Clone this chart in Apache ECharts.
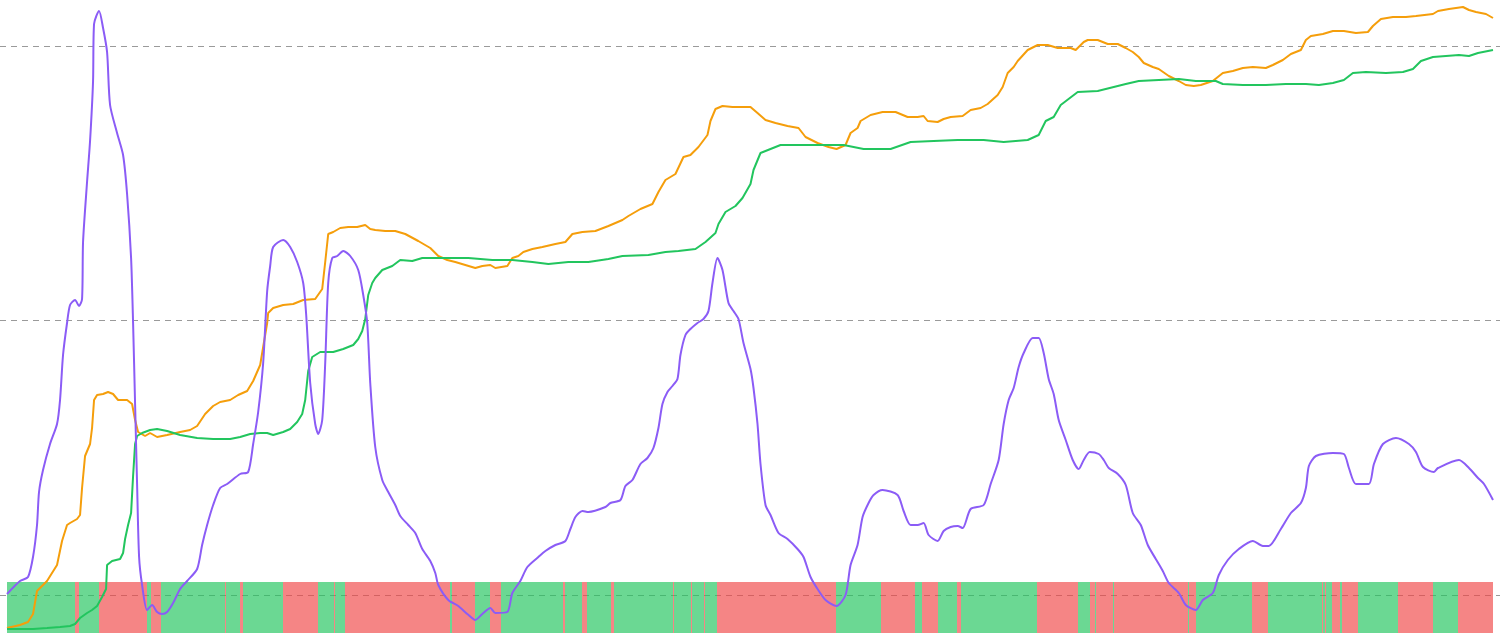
<!DOCTYPE html>
<html>
<head>
<meta charset="utf-8">
<script src="https://cdn.jsdelivr.net/npm/echarts@6/dist/echarts.min.js"></script>
<style>
  html, body { margin: 0; padding: 0; background: #ffffff; }
  #chart { width: 1500px; height: 633px; }
</style>
</head>
<body>
<div id="chart"></div>
<script>
// ---- data (day index, level) ----
const oscillator = [
[0,39],[13,52],[21,56],[26,76],[30,108],[32,141],[36,163],[43,189],[50,209],[53,233],[56,278],[60,310],[63,328],[68,333],[72,327],[75,334],[76,391],[80,451],[83,492],[86,552],[87,609],[92,622],[96,605],[100,581],[103,528],[110,500],[116,478],[120,439],[124,375],[126,310],[128,229],[130,149],[132,76],[135,48],[140,23],[145,28],[150,21],[155,19],[160,21],[166,30],[173,44],[180,52],[190,64],[195,88],[200,108],[206,128],[213,145],[220,149],[233,159],[241,161],[246,189],[251,221],[256,270],[260,342],[263,367],[266,386],[276,393],[283,386],[290,371],[296,350],[299,318],[303,250],[308,209],[311,199],[315,213],[318,270],[321,350],[325,375],[330,377],[336,382],[343,377],[351,363],[356,338],[360,310],[363,250],[368,186],[375,153],[381,141],[388,128],[393,117],[401,108],[408,100],[415,84],[423,72],[428,60],[431,48],[441,33],[451,27],[460,19],[468,13],[475,19],[483,25],[488,20],[500,21],[505,40],[513,52],[520,66],[531,76],[538,82],[548,88],[558,92],[563,104],[568,116],[575,122],[581,121],[598,126],[603,130],[613,133],[618,147],[625,153],[633,169],[640,175],[646,185],[651,205],[655,229],[660,241],[665,247],[670,254],[673,278],[678,298],[683,304],[690,310],[696,314],[701,322],[705,350],[710,375],[715,363],[721,330],[726,322],[731,314],[736,290],[743,264],[746,245],[750,209],[753,169],[758,128],[763,118],[771,100],[780,94],[790,84],[796,76],[803,56],[810,44],[818,33],[829,27],[838,38],[843,68],[850,88],[855,116],[861,130],[866,138],[875,143],[890,138],[896,122],[903,108],[910,108],[916,110],[921,98],[930,92],[936,102],[943,106],[950,107],[955,105],[963,124],[976,128],[983,149],[991,173],[996,209],[1001,233],[1006,245],[1011,266],[1016,280],[1025,295],[1031,295],[1036,280],[1041,254],[1046,239],[1051,213],[1058,193],[1065,173],[1071,164],[1076,173],[1082,181],[1091,179],[1096,173],[1101,165],[1110,159],[1118,148],[1125,120],[1133,108],[1140,88],[1148,74],[1155,62],[1161,50],[1171,40],[1178,28],[1188,23],[1195,33],[1205,40],[1211,58],[1220,73],[1231,84],[1245,92],[1255,87],[1261,87],[1273,104],[1283,120],[1293,130],[1298,145],[1301,167],[1308,177],[1325,180],[1336,179],[1341,165],[1348,149],[1361,149],[1366,169],[1375,189],[1388,195],[1401,189],[1408,181],[1415,166],[1426,161],[1430,165],[1451,173],[1461,165],[1470,155],[1476,149],[1485,133]
];
const fastTrend = [
[0,5],[13,8],[21,11],[26,19],[30,42],[40,52],[50,68],[55,92],[60,108],[63,110],[70,114],[73,118],[75,145],[78,177],[83,189],[85,205],[87,233],[90,238],[96,239],[101,241],[106,239],[111,233],[120,233],[125,229],[128,213],[131,201],[138,197],[143,200],[150,196],[160,198],[173,201],[183,203],[190,207],[198,219],[206,227],[213,231],[223,233],[231,238],[240,242],[246,252],[253,268],[256,286],[260,310],[261,320],[266,325],[276,328],[286,329],[296,333],[308,334],[315,344],[318,371],[321,399],[326,401],[333,405],[341,406],[350,406],[358,408],[363,404],[368,403],[378,402],[388,402],[398,399],[411,392],[423,385],[431,377],[440,373],[448,371],[458,368],[468,365],[475,367],[483,368],[488,365],[500,367],[505,375],[511,377],[516,381],[525,384],[535,386],[548,389],[558,391],[565,399],[575,401],[588,402],[601,407],[615,413],[621,417],[633,424],[645,429],[651,441],[658,453],[668,459],[676,476],[683,478],[691,486],[700,498],[703,512],[708,524],[715,527],[725,526],[735,526],[743,526],[750,520],[758,513],[768,510],[780,507],[791,505],[798,496],[810,490],[821,486],[829,484],[838,488],[843,500],[850,505],[853,512],[863,518],[875,521],[888,521],[900,516],[910,516],[916,517],[920,512],[930,511],[936,514],[943,516],[955,517],[963,523],[973,525],[980,529],[990,538],[995,546],[1000,560],[1006,566],[1010,572],[1020,583],[1030,588],[1040,588],[1050,585],[1063,585],[1068,583],[1076,591],[1080,593],[1090,593],[1100,589],[1110,589],[1118,585],[1125,581],[1131,576],[1136,570],[1145,566],[1151,564],[1161,557],[1171,552],[1178,548],[1186,547],[1193,548],[1205,552],[1215,560],[1225,562],[1235,565],[1245,566],[1258,565],[1265,568],[1275,573],[1283,579],[1293,583],[1298,593],[1303,597],[1315,599],[1325,602],[1336,602],[1348,600],[1360,601],[1365,607],[1373,614],[1385,616],[1398,616],[1408,617],[1425,619],[1430,622],[1441,624],[1455,626],[1461,623],[1468,621],[1478,619],[1485,615]
];
const slowTrend = [
[0,4],[13,4],[26,4],[40,5],[53,6],[63,7],[68,9],[73,15],[80,20],[85,23],[90,27],[95,36],[99,44],[100,68],[105,72],[113,74],[116,80],[118,94],[121,108],[124,120],[126,157],[128,189],[130,197],[135,200],[143,203],[150,204],[160,202],[173,198],[190,195],[206,194],[223,194],[233,196],[243,199],[253,200],[260,200],[266,198],[276,201],[283,204],[290,211],[295,219],[298,233],[301,262],[305,276],[313,281],[326,281],[336,284],[346,288],[351,294],[355,302],[358,314],[361,338],[365,350],[368,355],[375,363],[385,367],[393,373],[405,372],[415,375],[435,375],[461,375],[485,373],[505,373],[525,371],[541,369],[561,371],[581,371],[601,374],[615,377],[641,378],[658,381],[671,382],[688,384],[698,391],[708,400],[711,409],[718,421],[728,427],[735,435],[743,449],[746,463],[753,480],[763,484],[773,488],[793,488],[813,488],[836,488],[856,484],[883,484],[903,491],[926,492],[950,493],[976,493],[996,491],[1020,493],[1031,498],[1038,512],[1046,516],[1053,528],[1070,541],[1090,542],[1106,546],[1118,549],[1131,552],[1151,553],[1171,554],[1188,552],[1208,552],[1215,549],[1235,548],[1258,548],[1278,549],[1298,549],[1311,548],[1325,550],[1336,553],[1345,560],[1358,561],[1378,560],[1395,561],[1405,564],[1413,572],[1425,576],[1438,577],[1451,578],[1461,577],[1470,580],[1485,583]
];
// regime runs: [state (1 = bullish, 0 = bearish), number of days]
const regimeRuns = [
[1,68],[0,4],[1,20],[0,48],[1,4],[0,10],[1,64],[0,1],[1,14],[0,3],[1,40],[0,35],[1,16],[0,1],[1,10],[0,105],[1,2],[0,23],[1,15],[0,11],[1,62],[0,2],[1,17],[0,5],[1,24],[0,3],[1,59],[0,1],[1,17],[0,1],[1,12],[0,1],[1,12],[0,119],[1,45],[0,34],[1,7],[0,16],[1,19],[0,4],[1,76],[0,41],[1,12],[0,5],[1,1],[0,17],[1,1],[0,74],[1,1],[0,7],[1,56],[0,16],[1,54],[0,1],[1,2],[0,1],[1,6],[0,8],[1,2],[0,16],[1,40],[0,35],[1,25],[0,35]
];
const guideLevels = [0, 2, 1]; // min, max, step of the dashed reference scale

// ---- build ----
const regime = [];
regimeRuns.forEach(([s, n]) => { for (let k = 0; k < n; k++) regime.push(s); });
const days = regime.map((_, i) => i);
const bullBars = regime.map(s => (s === 1 ? 1 : '-'));
const bearBars = regime.map(s => (s === 0 ? 1 : '-'));

const chart = echarts.init(document.getElementById('chart'), null, { renderer: 'canvas' });
const hidden = { show: false };
chart.setOption({
  animation: false,
  backgroundColor: '#ffffff',
  grid: [
    { left: 0, right: 0, top: 46, bottom: 38 },
    { left: 7, right: 7, top: 0, bottom: 0 }
  ],
  xAxis: [
    { gridIndex: 0, type: 'value', min: 0, max: 1, show: false },
    { gridIndex: 1, type: 'value', min: 0, max: days.length - 1, show: false },
    { gridIndex: 1, type: 'category', data: days, show: false, boundaryGap: true }
  ],
  yAxis: [
    { gridIndex: 0, type: 'value', min: guideLevels[0], max: guideLevels[1], interval: guideLevels[2],
      axisLine: hidden, axisTick: hidden, axisLabel: hidden,
      splitLine: { show: true, lineStyle: { color: '#9a9a9a', type: [6, 5], width: 1 } } },
    { gridIndex: 1, type: 'value', min: 0, max: 633, show: false, splitLine: hidden },
    { gridIndex: 1, type: 'value', min: 0, max: 633 / 51, show: false, splitLine: hidden }
  ],
  series: [
    { name: 'Fast trend', type: 'line', xAxisIndex: 1, yAxisIndex: 1, data: fastTrend,
      showSymbol: false, lineStyle: { color: '#f59e0b', width: 2 }, itemStyle: { color: '#f59e0b' } },
    { name: 'Slow trend', type: 'line', xAxisIndex: 1, yAxisIndex: 1, data: slowTrend,
      showSymbol: false, lineStyle: { color: '#22c55e', width: 2 }, itemStyle: { color: '#22c55e' } },
    { name: 'Oscillator', type: 'line', xAxisIndex: 1, yAxisIndex: 1, data: oscillator,
      showSymbol: false, smooth: 0.25, lineStyle: { color: '#8b5cf6', width: 2 }, itemStyle: { color: '#8b5cf6' } },
    { name: 'Bullish', type: 'bar', xAxisIndex: 2, yAxisIndex: 2, data: bullBars,
      barCategoryGap: '0%', barGap: '-100%', itemStyle: { color: 'rgba(34,197,94,0.67)' } },
    { name: 'Bearish', type: 'bar', xAxisIndex: 2, yAxisIndex: 2, data: bearBars,
      barCategoryGap: '0%', barGap: '-100%', itemStyle: { color: 'rgba(239,68,68,0.65)' } }
  ]
});
</script>
</body>
</html>
